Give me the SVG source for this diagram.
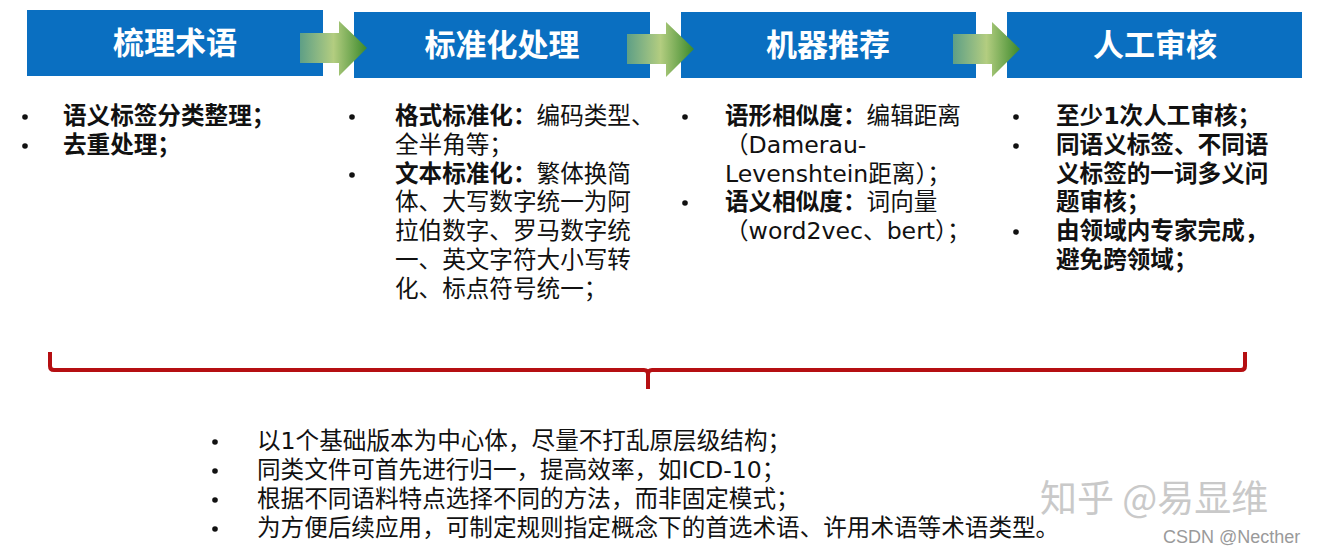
<svg xmlns="http://www.w3.org/2000/svg" width="1318" height="554" viewBox="0 0 1318 554">
<defs>
<linearGradient id="ag" x1="0" y1="0" x2="1" y2="0">
<stop offset="0" stop-color="#5e9f86"/>
<stop offset="0.5" stop-color="#b3cd80"/>
<stop offset="1" stop-color="#3b892b"/>
</linearGradient>
</defs>
<style>
.box{fill:#0A6FC1}
.title{font-family:"Noto Sans CJK SC","Noto Sans",sans-serif;font-weight:700;font-size:31px;fill:#fff;text-anchor:middle}
.t{font-family:"DejaVu Sans","Noto Sans CJK SC",sans-serif;font-size:23.6px;fill:#111}
.b{font-weight:700}
.dot{fill:#111}
.arrow{fill:url(#ag)}
.brace{fill:none;stroke:#B50F12;stroke-width:4;stroke-linejoin:round}
.wm{font-family:"Noto Sans CJK SC","Noto Sans",sans-serif;fill:#c9c9c9;font-size:37px}
.wm2{font-family:"Liberation Sans","Noto Sans",sans-serif;fill:#9a9a9a;font-size:18px}
</style>
<rect width="1318" height="554" fill="#fff"/>

<g id="node-shuli">
<rect class="box" x="27" y="10" width="296" height="66"/>
<text class="title" x="175" y="54">梳理术语</text>
<circle class="dot" cx="25" cy="117" r="2.8"/>
<circle class="dot" cx="25" cy="146" r="2.8"/>
<text class="t b" x="63" y="124">语义标签分类整理；</text>
<text class="t b" x="63" y="153">去重处理；</text>
</g>

<g id="node-biaozhun">
<rect class="box" x="354" y="12" width="296" height="66"/>
<text class="title" x="502" y="56">标准化处理</text>
<circle class="dot" cx="352" cy="117" r="2.8"/>
<circle class="dot" cx="352" cy="175" r="2.8"/>
<text class="t" x="395" y="124"><tspan class="b">格式标准化：</tspan>编码类型、</text>
<text class="t" x="395" y="153">全半角等；</text>
<text class="t" x="395" y="182"><tspan class="b">文本标准化：</tspan>繁体换简</text>
<text class="t" x="395" y="210">体、大写数字统一为阿</text>
<text class="t" x="395" y="239">拉伯数字、罗马数字统</text>
<text class="t" x="395" y="268">一、英文字符大小写转</text>
<text class="t" x="395" y="297">化、标点符号统一；</text>
</g>

<g id="node-jiqi">
<rect class="box" x="681" y="12" width="295" height="66"/>
<text class="title" x="828" y="56">机器推荐</text>
<circle class="dot" cx="685" cy="117" r="2.8"/>
<circle class="dot" cx="685" cy="203" r="2.8"/>
<text class="t" x="725" y="124"><tspan class="b">语形相似度：</tspan>编辑距离</text>
<text class="t" x="725" y="153">（Damerau-</text>
<text class="t" x="725" y="182">Levenshtein距离）；</text>
<text class="t" x="725" y="210"><tspan class="b">语义相似度：</tspan>词向量</text>
<text class="t" x="725" y="239">（word2vec、bert）；</text>
</g>

<g id="node-rengong">
<rect class="box" x="1007" y="12" width="295" height="66"/>
<text class="title" x="1155" y="56">人工审核</text>
<circle class="dot" cx="1016" cy="117" r="2.8"/>
<circle class="dot" cx="1016" cy="146" r="2.8"/>
<circle class="dot" cx="1016" cy="232" r="2.8"/>
<text class="t b" x="1056" y="124">至少1次人工审核；</text>
<text class="t b" x="1056" y="153">同语义标签、不同语</text>
<text class="t b" x="1056" y="182">义标签的一词多义问</text>
<text class="t b" x="1056" y="210">题审核；</text>
<text class="t b" x="1056" y="239">由领域内专家完成，</text>
<text class="t b" x="1056" y="268">避免跨领域；</text>
</g>

<g id="connectors">
<path class="arrow" d="M300,33 H339 V21 L367,48 L339,76 V63 H300 Z"/>
<path class="arrow" d="M627,34 H666 V22 L694,49 L666,77 V64 H627 Z"/>
<path class="arrow" d="M953,34 H992 V22 L1020,49 L992,77 V64 H953 Z"/>
<path class="brace" d="M50,352 V366 Q50,370 54,370 H644 Q648,370 648,374 V389 M648,374 Q648,370 652,370 H1241 Q1245,370 1245,366 V352"/>
</g>

<g id="node-summary">
<circle class="dot" cx="215" cy="442" r="2.8"/>
<circle class="dot" cx="215" cy="471" r="2.8"/>
<circle class="dot" cx="215" cy="500" r="2.8"/>
<circle class="dot" cx="215" cy="529" r="2.8"/>
<text class="t" x="257" y="449">以1个基础版本为中心体，尽量不打乱原层级结构；</text>
<text class="t" x="257" y="478">同类文件可首先进行归一，提高效率，如ICD-10；</text>
<text class="t" x="257" y="507">根据不同语料特点选择不同的方法，而非固定模式；</text>
<text class="t" x="257" y="536">为方便后续应用，可制定规则指定概念下的首选术语、许用术语等术语类型。</text>
</g>

<text class="wm" x="1040" y="512">知乎 @易显维</text>
<text class="wm2" x="1163" y="543">CSDN @Necther</text>
</svg>
